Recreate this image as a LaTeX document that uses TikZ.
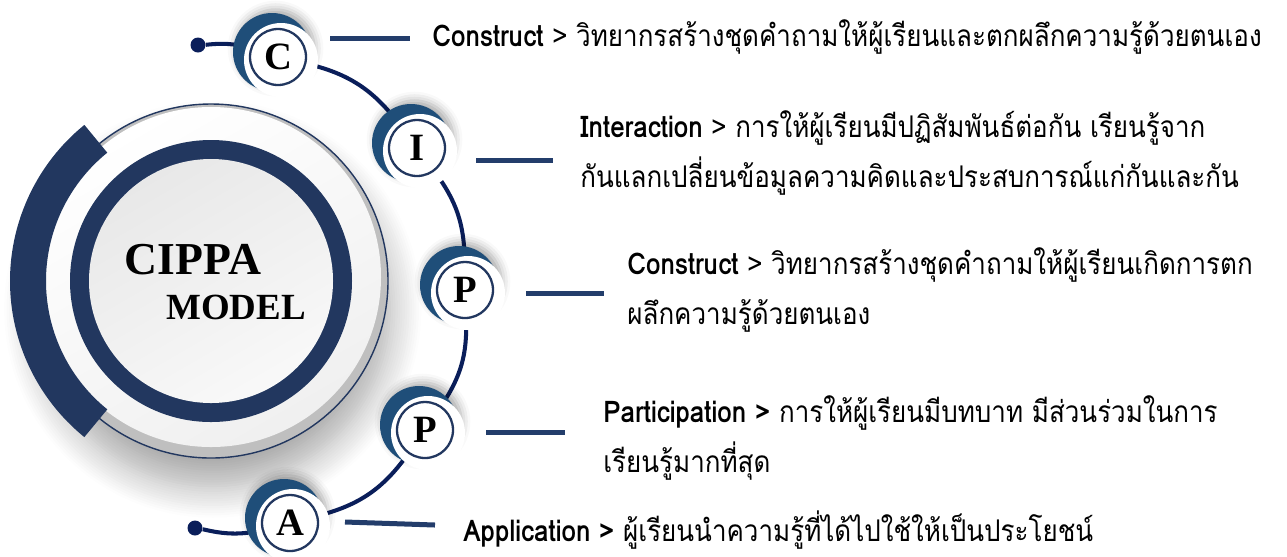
\documentclass[tikz,border=0pt]{standalone}
\usepackage{fontspec}
\setmainfont{Liberation Serif}
\newfontfamily\thaifont[Script=Thai,FakeStretch=0.87]{Loma}
\usetikzlibrary{shadows.blur,backgrounds}

\definecolor{ringnavy}{HTML}{22375F}
\definecolor{arcnavy}{HTML}{0A1E5A}
\definecolor{blobblue}{HTML}{1F4E79}
\definecolor{barnavy}{HTML}{233D6B}

\tikzset{
  letter/.style={circle, draw=ringnavy, line width=1.3pt, fill=white,
    minimum size=1.12cm, inner sep=0pt, font=\fontsize{22}{22}\selectfont\bfseries},
  link/.style={draw=arcnavy, line width=2.3pt},
  bar/.style={draw=barnavy, line width=1mm},
  item/.style={anchor=west, align=left, inner sep=0pt,
    font=\thaifont\fontsize{17}{28.45}\selectfont},
  enddot/.style={circle, fill=arcnavy, minimum size=0.3cm, inner sep=0pt},
}

% badge: blue crescent, white cut, letter circle
\newcommand\cippabadge[4]{%
  \fill[blobblue, blur shadow={shadow xshift=2pt, shadow yshift=2pt,
    shadow blur radius=5pt, shadow opacity=35}] (#2-6,#3+5) circle (39);
  \fill[white] (#2+3,#3-3) circle (37);
  \node[letter] (#1) at (#2,#3) {#4};
}

\begin{document}
\begin{tikzpicture}[x=0.02cm, y=0.02cm]
\useasboundingbox (0,0) rectangle (1287,-556);

% big disk
\fill[gray!50, blur shadow={shadow xshift=1pt, shadow yshift=-16pt,
  shadow blur radius=18pt, shadow blur steps=14, shadow opacity=35}] (211,-281) circle (177);
\draw[ringnavy, line width=0.8pt] (211,-281) circle (177);
\shade[top color=white, bottom color=gray!12, shading angle=30] (211,-277) circle (170);
\fill[ringnavy] (211,-281) circle (141);
\shade[top color=gray!18, bottom color=gray!5, shading angle=30] (211,-281) circle (122);
\draw[ringnavy, line width=0.72cm] (211,-281) ++(129:183)
  arc[start angle=129, end angle=231, radius=183];

\node[font=\fontsize{26}{26}\selectfont\bfseries] (title) at (193,-260) {CIPPA};
\node[font=\fontsize{21}{21}\selectfont\bfseries] (subtitle) at (236,-307) {MODEL};

% badges
\cippabadge{C}{278}{-57}{C}
\cippabadge{I}{417}{-148}{I}
\cippabadge{P1}{465}{-290}{P}
\cippabadge{P2}{425}{-430}{P}
\cippabadge{A}{290}{-523}{A}

\node[enddot] (dotC) at (198,-45) {};
\node[enddot] (dotA) at (195,-528) {};

% arc through the badges
\begin{scope}[on background layer]
  \draw[link] (dotC) to[bend left=10] (C);
  \draw[link] (C) to[bend left=20] (I);
  \draw[link] (I) to[bend left=18] (P1);
  \draw[link] (P1) to[bend left=18] (P2);
  \draw[link] (P2) to[bend left=20] (A);
  \draw[link] (A) to[bend left=12] (dotA);
\end{scope}

% bars
\coordinate (bC1) at (330,-38);  \coordinate (bC2) at (410,-38);
\coordinate (bI1) at (476,-160); \coordinate (bI2) at (553,-160);
\coordinate (bP1) at (526,-293); \coordinate (bP2) at (604,-293);
\coordinate (bQ1) at (486,-432); \coordinate (bQ2) at (565,-432);
\coordinate (bA1) at (345,-522); \coordinate (bA2) at (435,-525);
\draw[bar] (bC1) -- (bC2);
\draw[bar] (bI1) -- (bI2);
\draw[bar] (bP1) -- (bP2);
\draw[bar] (bQ1) -- (bQ2);
\draw[bar] (bA1) -- (bA2);

% texts
\node[item] (tC) at (432,-37) {\textbf{Construct} > วิทยากรสร้างชุดคำถามให้ผู้เรียนและตกผลึกความรู้ด้วยตนเอง};
\node[item] (tI) at (580,-153) {\textbf{Interaction} > การให้ผู้เรียนมีปฏิสัมพันธ์ต่อกัน เรียนรู้จาก\\กันแลกเปลี่ยนข้อมูลความคิดและประสบการณ์แก่กันและกัน};
\node[item] (tP1) at (627,-290) {\textbf{Construct} > วิทยากรสร้างชุดคำถามให้ผู้เรียนเกิดการตก\\ผลึกความรู้ด้วยตนเอง};
\node[item] (tP2) at (603,-438) {\textbf{Participation >} การให้ผู้เรียนมีบทบาท มีส่วนร่วมในการ\\เรียนรู้มากที่สุด};
\node[item] (tA) at (463,-530) {\textbf{Application >} ผู้เรียนนำความรู้ที่ได้ไปใช้ให้เป็นประโยชน์};
\end{tikzpicture}
\end{document}
